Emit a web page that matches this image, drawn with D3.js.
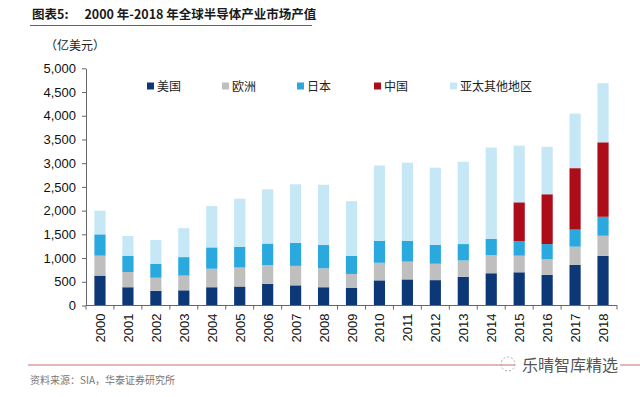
<!DOCTYPE html>
<html>
<head>
<meta charset="utf-8">
<script src="https://cdn.jsdelivr.net/npm/d3@7"></script>
<style>
  body { margin: 0; background: #fff; }
  svg { display: block; font-family: "Liberation Sans", Arial, sans-serif; }
</style>
</head>
<body>
<svg id="mySvg"></svg>
<script>
const width = 640;
const height = 397;

// data (亿美元)
const years = ["2000","2001","2002","2003","2004","2005","2006","2007","2008","2009",
               "2010","2011","2012","2013","2014","2015","2016","2017","2018"];
const seriesNames = ["美国", "欧洲", "日本", "中国", "亚太其他地区"];
const usa    = [630, 385, 310, 320, 385, 400, 455, 425, 385, 375, 530, 550, 535, 605, 680, 700, 645, 855, 1045];
const europe = [420, 320, 275, 310, 390, 400, 395, 410, 400, 290, 370, 375, 345, 345, 380, 350, 330, 385, 425];
const japan  = [450, 345, 290, 390, 450, 440, 455, 485, 490, 385, 460, 435, 400, 345, 345, 310, 320, 360, 400];
const china  = [0, 0, 0, 0, 0, 0, 0, 0, 0, 0, 0, 0, 0, 0, 0, 815, 1050, 1295, 1570];
const apOther= [500, 415, 505, 610, 870, 1010, 1145, 1235, 1270, 1150, 1590, 1650, 1625, 1735, 1925, 1195, 1000, 1150, 1245];
const yTicks = [0, 500, 1000, 1500, 2000, 2500, 3000, 3500, 4000, 4500, 5000];

const colors = ["#0d3878", "#bfbfbf", "#2aa9df", "#ac0d19", "#c6e7f6"];

// build table for stacking
const table = years.map((y, i) => ({
  year: y,
  "美国": usa[i], "欧洲": europe[i], "日本": japan[i], "中国": china[i], "亚太其他地区": apOther[i]
}));

const svg = d3.select("#mySvg").attr("width", width).attr("height", height);

// title
const title = svg.append("text")
  .attr("x", 32).attr("y", 19)
  .attr("font-size", 12.5).attr("font-weight", "bold")
  .attr("fill", "#1a1a1a")
  .attr("font-family", "'Noto Sans CJK SC', sans-serif");
title.append("tspan").text("图表5:");
title.append("tspan").attr("dx", 16).text("2000 年-2018 年全球半导体产业市场产值");
svg.append("line")
  .attr("x1", 30).attr("x2", 312).attr("y1", 25.5).attr("y2", 25.5)
  .attr("stroke", "#9a4a5a").attr("stroke-width", 1.2);

svg.append("text")
  .attr("x", 45).attr("y", 50)
  .attr("font-size", 12).attr("fill", "#222")
  .attr("font-family", "'Noto Sans CJK SC', sans-serif")
  .text("（亿美元）");

const x = d3.scaleBand().domain(years).range([86, 617]).paddingInner(0.6).paddingOuter(0.3);
const y = d3.scaleLinear().domain([0, 5000]).range([305.5, 68.3]);

const stack = d3.stack().keys(seriesNames)(table);

svg.append("g")
  .selectAll("g")
  .data(stack)
  .enter()
  .append("g")
  .attr("fill", (d, i) => colors[i])
  .selectAll("rect")
  .data(d => d)
  .enter()
  .append("rect")
  .attr("x", d => x(d.data.year))
  .attr("width", x.bandwidth())
  .attr("y", d => y(d[1]))
  .attr("height", d => y(d[0]) - y(d[1]));

// y axis
const yAxis = svg.append("g")
  .attr("transform", "translate(86,0)")
  .call(d3.axisLeft(y).tickValues(yTicks).tickFormat(d3.format(",")).tickSize(4).tickSizeOuter(0));
yAxis.select(".domain").attr("stroke", "#666");
yAxis.selectAll(".tick line").attr("stroke", "#666");
yAxis.selectAll(".tick text").attr("font-size", 13).attr("fill", "#111").attr("x", -10);

// x axis
const step = x.step();
const xAxis = svg.append("g").attr("transform", "translate(0,305.5)");
xAxis.append("line").attr("x1", 86).attr("x2", 617).attr("stroke", "#666");
xAxis.selectAll("line.tk")
  .data(d3.range(years.length + 1))
  .enter().append("line")
  .attr("class", "tk")
  .attr("x1", i => 86 + i * step).attr("x2", i => 86 + i * step)
  .attr("y1", 0).attr("y2", 4)
  .attr("stroke", "#666");
xAxis.selectAll("text")
  .data(years)
  .enter().append("text")
  .attr("transform", d => `translate(${x(d) + x.bandwidth() / 2 + 5},8) rotate(-90)`)
  .attr("text-anchor", "end")
  .attr("font-size", 13)
  .attr("fill", "#111")
  .text(d => d);

// legend
const legendX = [147, 222, 297, 374, 450];
const legend = svg.append("g").selectAll("g")
  .data(seriesNames)
  .enter().append("g")
  .attr("transform", (d, i) => `translate(${legendX[i]},86)`);
legend.append("rect")
  .attr("x", 0).attr("y", -3.5).attr("width", 7).attr("height", 7)
  .attr("fill", (d, i) => colors[i]);
legend.append("text")
  .attr("x", 10).attr("y", 4.5)
  .attr("font-size", 12).attr("fill", "#222")
  .attr("font-family", "'Noto Sans CJK SC', sans-serif")
  .text(d => d);

// footer
svg.append("line")
  .attr("x1", 28).attr("x2", 515).attr("y1", 365).attr("y2", 365)
  .attr("stroke", "#c8706a").attr("stroke-width", 1);
svg.append("line")
  .attr("x1", 620).attr("x2", 640).attr("y1", 365).attr("y2", 365)
  .attr("stroke", "#c8706a").attr("stroke-width", 1);
svg.append("text")
  .attr("x", 30).attr("y", 384)
  .attr("font-size", 10).attr("fill", "#777")
  .attr("font-family", "'Noto Sans CJK SC', sans-serif")
  .text("资料来源：SIA，华泰证券研究所");

// watermark
svg.append("circle")
  .attr("cx", 508).attr("cy", 364).attr("r", 7)
  .attr("fill", "none").attr("stroke", "#aaa").attr("stroke-dasharray", "2,2");
svg.append("text")
  .attr("x", 522).attr("y", 371)
  .attr("font-size", 16).attr("fill", "#555")
  .attr("font-family", "'Noto Sans CJK SC', sans-serif")
  .text("乐晴智库精选");
</script>
</body>
</html>
